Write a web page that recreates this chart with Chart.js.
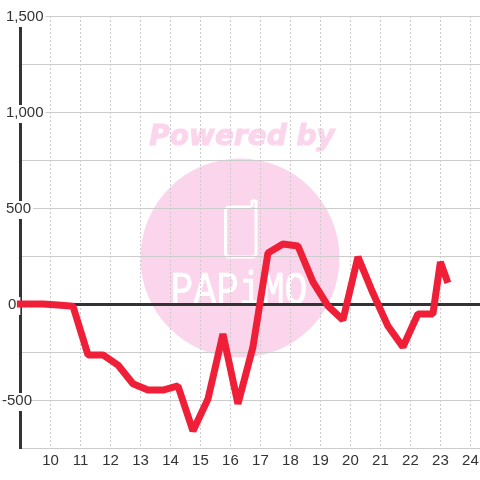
<!DOCTYPE html>
<html><head><meta charset="utf-8">
<style>html,body{margin:0;padding:0;background:#fff}#w{width:480px;height:480px}</style>
<script src="https://cdn.jsdelivr.net/npm/chart.js@4"></script></head>
<body><div id="w"><canvas id="c" width="480" height="480"></canvas></div>
<script>
const hours=[8.88,9.75,10.25,10.75,11.25,11.75,12.25,12.75,13.25,13.75,14.25,14.75,15.25,15.75,16.25,16.75,17.25,17.75,18.25,18.75,19.25,19.75,20.25,20.75,21.25,21.75,22.25,22.75,23,23.25];
const values=[0,0,-5,-12,-265,-265,-318,-415,-448,-448,-427,-661,-495,-156,-520,-224,265,312,302,115,-10,-83,245,57,-115,-224,-52,-52,219,110];
const xRange=[9,24.32];
const yRange=[-750,1500];
const labelledY=[1500,1000,500,0,-500];
const FG='#333333', GRID='#cccccc', RED='#ef1f38', PINK='#fbd5ec';

const watermark={id:'watermark',beforeDraw(chart){
  const g=chart.ctx;g.save();
  g.fillStyle='#fff';g.fillRect(0,0,480,480);
  g.fillStyle=PINK;g.strokeStyle=PINK;g.lineWidth=1;
  g.font='italic bold 28px "DejaVu Sans"';g.textAlign='center';g.textBaseline='alphabetic';
  g.fillText('Powered by',242,145);g.strokeText('Powered by',242,145);
  g.beginPath();g.arc(240,258,99.5,0,Math.PI*2);g.fill();
  g.strokeStyle='#fff';g.lineWidth=3;g.lineJoin='round';
  g.beginPath();
  g.moveTo(251,207);g.lineTo(229,207);g.arcTo(225.5,207,225.5,211,4);g.lineTo(225.5,253);g.arcTo(225.5,257,229,257,4);
  g.lineTo(252,257);g.arcTo(256,257,256,253,4);g.lineTo(256,201);g.lineTo(252,201);g.lineTo(252,207);g.stroke();
  g.fillStyle='#fff';g.translate(239,304);g.scale(1,1.22);
  g.font='38px "Liberation Mono"';g.lineWidth=0.6;g.fillText('PAPiMO',0,0);g.strokeText('PAPiMO',0,0);
  g.restore();
}};

function shiftLabels(s){
  if(s._shifted)return;s._shifted=true;
  const orig=s._computeLabelItems;
  s._computeLabelItems=function(a){
    const items=orig.call(this,a);
    items.forEach(it=>{
      const dx=it.label==='-500'?-4:it.label==='0'?2:0;
      it.options.translation[0]+=dx;it.options.translation[1]+=1;
      if(it.options.backdrop){it.options.backdrop.left+=dx;it.options.backdrop.top+=1;}
    });
    return items;
  };
}

new Chart(document.getElementById('c'),{
  type:'line',
  data:{datasets:[{data:hours.map((h,i)=>({x:h,y:values[i]})),borderColor:RED,borderWidth:7,borderJoinStyle:'bevel',borderCapStyle:'butt',pointRadius:0,tension:0,fill:false,clip:false}]},
  plugins:[watermark],
  options:{
    responsive:false,animation:false,
    layout:{autoPadding:false,padding:{left:6,top:16,right:0,bottom:0}},
    plugins:{legend:{display:false},tooltip:{enabled:false},title:{display:false}},
    scales:{
      x:{type:'linear',min:xRange[0],max:xRange[1],
        afterFit(s){s.height=32;s.paddingLeft=0;s.paddingRight=0;},
        border:{display:false,dash:[2,2]},
        grid:{drawTicks:false,tickLength:0,lineWidth:1,color:c=>c.tick.value===9?'transparent':GRID},
        ticks:{stepSize:1,includeBounds:false,autoSkip:false,maxRotation:0,padding:4,color:FG,font:{family:'"Liberation Sans"',size:15},
          callback:v=>v===9?'':String(v)}
      },
      y:{type:'linear',min:yRange[0],max:yRange[1],
        afterDataLimits:shiftLabels,
        afterFit(s){s.width=14.5;s.paddingTop=0;s.paddingBottom=0;},
        border:{display:true,color:FG,width:3},
        grid:{drawTicks:false,tickLength:0,color:c=>c.tick.value===0?FG:GRID,lineWidth:c=>c.tick.value===0?3:1},
        ticks:{stepSize:250,mirror:true,padding:-14.5,color:FG,font:{family:'"Liberation Sans"',size:15},
          showLabelBackdrop:c=>labelledY.includes(c.tick.value),backdropColor:'#fff',backdropPadding:{left:0,right:2,top:0,bottom:0},
          callback:v=>labelledY.includes(v)?v.toLocaleString('en-US'):''}
      }
    }
  }
});
</script></body></html>
